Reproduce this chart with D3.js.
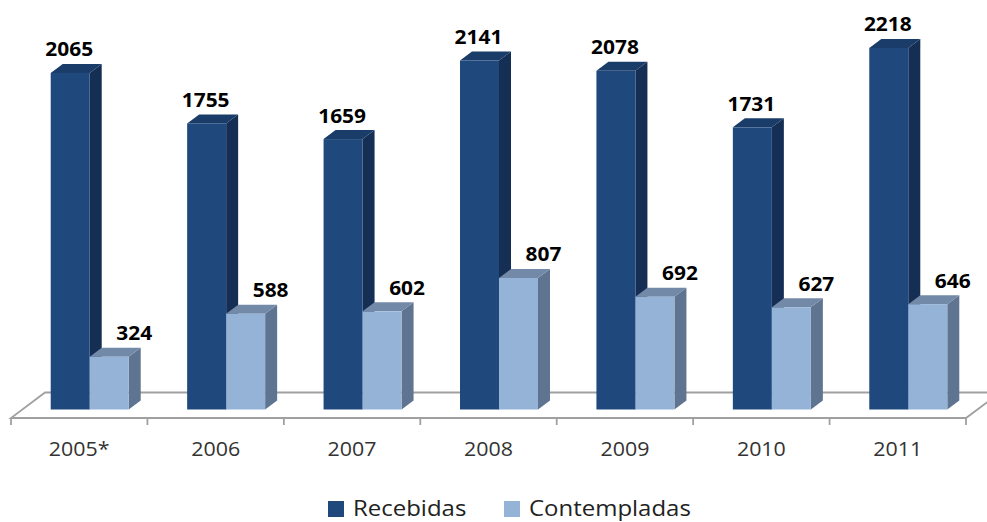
<!DOCTYPE html>
<html>
<head>
<meta charset="utf-8">
<script src="https://cdn.jsdelivr.net/npm/d3@7"></script>
<style>
    html, body { margin: 0; padding: 0; background: #fff; }
    svg { display: block; }
</style>
</head>
<body>
<div id="root"></div>
<script>
const years = ['2005*', '2006', '2007', '2008', '2009', '2010', '2011'];
const recebidas = [2065, 1755, 1659, 2141, 2078, 1731, 2218];
const contempladas = [324, 588, 602, 807, 692, 627, 646];
const seriesNames = ['Recebidas', 'Contempladas'];

// front, top, side shades for each series
const seriesColors = [
    { front: '#1f497d', top: '#1a3c69', side: '#152e53' },
    { front: '#95b3d7', top: '#7289a7', side: '#5e7490' }
];

let width = 987,
    height = 522,
    baseY = 409.5,
    floorFront = 418,
    floorDepth = { dx: 34, dy: -25.5 },
    barDepth = { dx: 12, dy: -9 },
    barWidth = 39,
    barShift = 10.5;

let svg = d3.select('#root')
    .append('svg')
    .attr('width', width)
    .attr('height', height);

let x = d3.scaleBand().domain(years).range([11, 966]).padding(0),
    y = d3.scaleLinear().domain([0, 2500]).range([baseY, baseY - 2500 * 0.163]);

// floor of the 3d plot
let x0 = x.range()[0], x1 = x.range()[1];
svg.append('path')
    .attr('d', d3.line()([
        [x0, floorFront], [x1, floorFront],
        [x1 + floorDepth.dx, floorFront + floorDepth.dy],
        [x0 + floorDepth.dx, floorFront + floorDepth.dy]
    ]) + 'Z')
    .style('fill', '#fff')
    .style('stroke', '#a0a0a0')
    .style('stroke-width', 1.8);

// tick marks on the category boundaries
svg.append('g')
    .selectAll('line')
    .data(d3.range(years.length + 1))
    .enter()
    .append('line')
    .attr('x1', (d) => x0 + d * x.step())
    .attr('x2', (d) => x0 + d * x.step())
    .attr('y1', floorFront)
    .attr('y2', floorFront + 7)
    .style('stroke', '#a0a0a0')
    .style('stroke-width', 1.8);

// category labels
let axis = svg.append('g')
    .attr('transform', 'translate(0,' + 456 + ')')
    .call(d3.axisBottom(x).tickSize(0).tickPadding(0));
axis.select('.domain').remove();
axis.selectAll('text')
    .attr('y', 0)
    .attr('dy', 0)
    .attr('transform', 'scale(1.07,1)')
    .style('font-family', '"Open Sans", sans-serif')
    .style('font-size', '20px')
    .style('fill', '#333');

function boxPath(bx, top, w, d) {
    return {
        top: d3.line()([[bx, top], [bx + w, top], [bx + w + d.dx, top + d.dy], [bx + d.dx, top + d.dy]]) + 'Z',
        side: d3.line()([[bx + w, top], [bx + w + d.dx, top + d.dy], [bx + w + d.dx, baseY + d.dy], [bx + w, baseY]]) + 'Z'
    };
}

let bars = [];
years.forEach((year, i) => {
    [recebidas[i], contempladas[i]].forEach((value, s) => {
        bars.push({ year, value, s, bx: x(year) + x.bandwidth() / 2 + barShift - barWidth + s * barWidth });
    });
});

let barGroup = svg.append('g')
    .selectAll('.bar')
    .data(bars)
    .enter()
    .append('g')
    .attr('class', 'bar');

barGroup.append('path')
    .attr('d', (d) => boxPath(d.bx, y(d.value), barWidth, barDepth).side)
    .style('fill', (d) => seriesColors[d.s].side);

barGroup.append('path')
    .attr('d', (d) => boxPath(d.bx, y(d.value), barWidth, barDepth).top)
    .style('fill', (d) => seriesColors[d.s].top);

barGroup.append('rect')
    .attr('x', (d) => d.bx)
    .attr('y', (d) => y(d.value))
    .attr('width', barWidth)
    .attr('height', (d) => baseY - y(d.value))
    .style('fill', (d) => seriesColors[d.s].front);

// value labels, light series labels sit a bit to the right like in excel
svg.append('g')
    .selectAll('text')
    .data(bars)
    .enter()
    .append('text')
    .attr('transform', (d) => 'translate(' + (d.bx + barWidth / 2 + (d.s ? 25 : -1)) + ',' + (y(d.value) + barDepth.dy - 7.5) + ') scale(1.1,1)')
    .attr('text-anchor', 'middle')
    .style('font-family', '"Open Sans", sans-serif')
    .style('font-weight', 'bold')
    .style('font-size', '19px')
    .style('fill', '#000')
    .text((d) => d.value);

// legend
let legendX = [328, 504];
let legend = svg.append('g')
    .selectAll('.legendItem')
    .data(seriesNames)
    .enter()
    .append('g')
    .attr('class', 'legendItem')
    .attr('transform', (d, i) => 'translate(' + legendX[i] + ',' + 501 + ')');

legend.append('rect')
    .attr('width', 16)
    .attr('height', 16)
    .style('fill', (d, i) => seriesColors[i].front);

legend.append('text')
    .attr('transform', 'translate(25,14.5) scale(1.09,1)')
    .style('font-family', '"Open Sans", sans-serif')
    .style('font-size', '22px')
    .style('fill', '#222')
    .text((d) => d);
</script>
</body>
</html>
